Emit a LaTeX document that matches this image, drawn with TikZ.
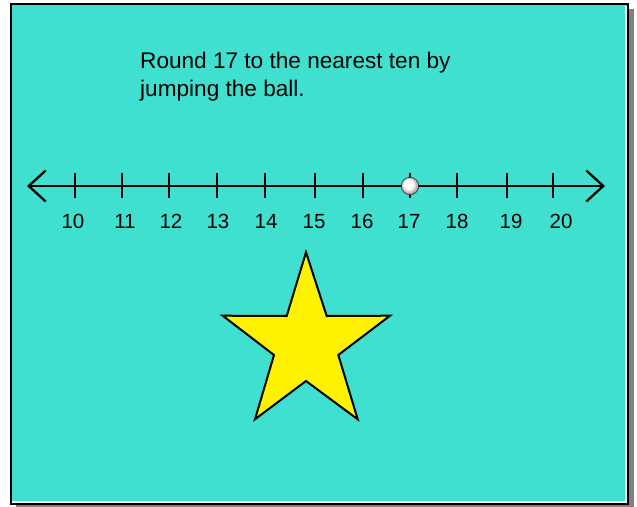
\documentclass[tikz,border=0pt]{standalone}
\usepackage{fontspec}
\setmainfont{Liberation Sans}
\usepackage{tikz}
\usetikzlibrary{arrows.meta}
\definecolor{turq}{RGB}{64,224,208}
\definecolor{shadowgray}{RGB}{128,128,128}
\pgfdeclareradialshading{whiteball}{\pgfpoint{-6bp}{6bp}}{color(0bp)=(white); color(13bp)=(white); color(24bp)=(black!35); color(50bp)=(black!35)}

\begin{document}
\begin{tikzpicture}[x=1pt,y=-1pt,
  numline/.style={line width=2.3pt},
  numlabel/.style={font=\fontsize{20.5}{22}\selectfont,inner sep=0pt,anchor=base},
  title/.style={font=\fontsize{22.6}{28.4}\selectfont,align=left,anchor=north west,inner sep=0pt}]
\useasboundingbox (0,0) rectangle (637,506);
% frame and its shadow
\fill[shadowgray] (16,9) rectangle (634,510);
\fill[turq] (11,4) rectangle (628,504);
\draw[white,line width=2pt] (625.5,6)--(625.5,502)--(12,502);
\draw[line width=2pt] (11,4) rectangle (628,504);
\node[title] (question) at (140,52) {Round 17 to the nearest ten by\\jumping the ball.};
% number line
\coordinate (lft) at (27,186);
\coordinate (rgt) at (605,186);
\draw[numline,{Straight Barb[length=17pt,width=31pt]}-{Straight Barb[length=17pt,width=31pt]}] (lft)--(rgt);
\draw[numline]
(75,173)--(75,198)
(122,173)--(122,198)
(169,173)--(169,198)
(217,173)--(217,198)
(265,173)--(265,198)
(315,173)--(315,198)
(363,173)--(363,198)
(410,173)--(410,198)
(457,173)--(457,198)
(507,173)--(507,198)
(553,173)--(553,198);
\node[numlabel] (l10) at (73,228) {10};
\node[numlabel] (l11) at (125,228) {11};
\node[numlabel] (l12) at (171,228) {12};
\node[numlabel] (l13) at (218,228) {13};
\node[numlabel] (l14) at (266,228) {14};
\node[numlabel] (l15) at (314,228) {15};
\node[numlabel] (l16) at (362,228) {16};
\node[numlabel] (l17) at (409,228) {17};
\node[numlabel] (l18) at (457,228) {18};
\node[numlabel] (l19) at (511,228) {19};
\node[numlabel] (l20) at (561,228) {20};
% the ball on 17
\node[circle,minimum size=17.4pt,inner sep=0pt,draw=black!75,line width=0.8pt,shading=whiteball] (ball) at (410,186) {};
% star
\draw[fill=yellow,line width=2pt,line join=miter]
(306,252.3)--(326.7,316)--(390,315.7)--(338.3,355)--(357.7,419.3)
--(306,381)--(255,419.3)--(274,355)--(222.7,315.7)--(286.7,316)--cycle;
\end{tikzpicture}
\end{document}
